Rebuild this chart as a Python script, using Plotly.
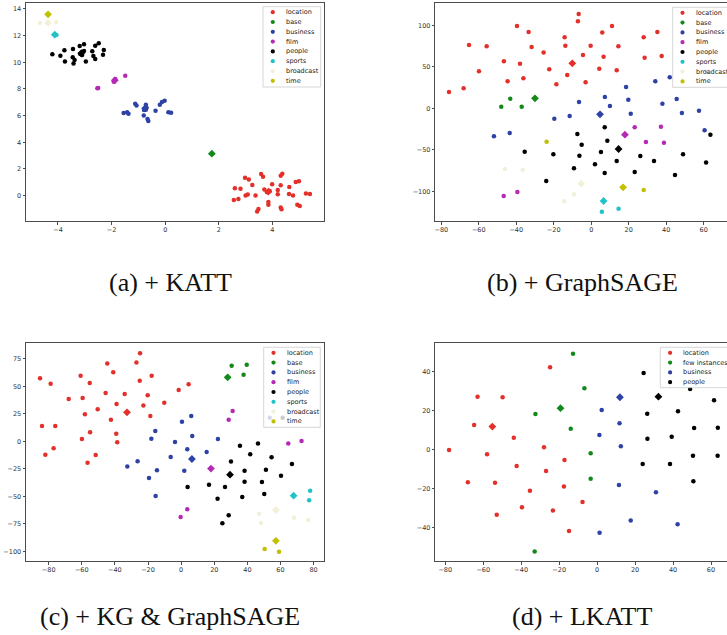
import plotly.graph_objects as go

W, H = 727, 635

# ---------------- categories / colours ----------------
CATS8 = ["location", "base", "business", "film", "people", "sports", "broadcast", "time"]
CATS4 = ["location", "few instances", "business", "people"]
COLORS8 = ["#e3302a", "#128a1a", "#2e42a6", "#b52ab5", "#000000", "#22c2c8", "#f3f0da", "#c2bf00"]
COLORS4 = ["#e3302a", "#128a1a", "#2e42a6", "#000000"]

CAPTIONS = ["(a) + KATT", "(b) + GraphSAGE", "(c) + KG & GraphSAGE", "(d) + LKATT"]

# ---------------- panel (a) + KATT ----------------
A_LOCATION = [(2.98, 1.35), (3.12, 1.22), (3.58, 1.62), (3.65, 1.42), (4.31, 1.50), (4.37, 1.65),
              (3.25, 0.80), (3.99, 0.85), (4.31, 0.78), (2.60, 0.55), (2.81, 0.52), (3.70, 0.47),
              (4.20, 0.42), (4.63, 0.65), (4.87, 1.03), (4.99, 1.08), (3.00, 0.02), (3.08, 0.08),
              (3.37, 0.02), (4.20, 0.10), (4.62, 0.12), (4.77, 0.02), (5.25, 0.17), (5.40, 0.12),
              (2.56, -0.33), (2.73, -0.25), (3.85, -0.48), (3.85, -0.68), (4.31, -0.88), (4.34, -1.02),
              (4.93, -0.68), (5.02, -0.78), (3.43, -1.18), (3.48, -1.00), (3.80, 0.25), (3.90, 0.35)]
A_BASE = []
A_BUSINESS = [(-1.55, 6.20), (-1.42, 6.25), (-1.37, 6.15), (-1.12, 6.90), (-1.07, 6.77), (-0.80, 6.02),
              (-0.79, 6.42), (-0.72, 6.82), (-0.70, 6.62), (-0.66, 5.75), (-0.63, 5.60), (-0.36, 6.37),
              (-0.20, 6.82), (-0.12, 7.02), (-0.02, 7.12), (0.12, 6.25), (0.22, 6.22), (-0.72, 6.45)]
A_FILM = [(-2.53, 8.05), (-2.50, 8.08), (-1.86, 8.75), (-1.92, 8.55), (-1.49, 9.00)]
A_PEOPLE = [(-4.21, 10.60), (-3.91, 10.50), (-3.76, 10.90), (-3.74, 10.07), (-3.44, 11.00), (-3.45, 10.37),
            (-3.38, 10.17), (-3.42, 9.92), (-3.19, 11.22), (-3.17, 10.62), (-3.10, 10.55), (-3.03, 11.35),
            (-3.03, 10.85), (-2.96, 10.07), (-2.72, 10.82), (-2.68, 10.47), (-2.61, 10.25), (-2.61, 11.25),
            (-2.48, 11.42), (-2.32, 10.57), (-2.29, 10.92)]
A_SPORTS = [(-4.06, 12.05)]
A_BROADCAST = [(-4.67, 12.95), (-4.07, 13.00)]
A_TIME = []
A_CENTROIDS = [(3.85, 0.30), (1.74, 3.15), (-0.75, 6.55), (-1.88, 8.65), (-3.13, 10.68),
               (-4.12, 12.07), (-4.37, 12.95), (-4.37, 13.60)]
A_XTICKS = [-4, -2, 0, 2, 4]
A_YTICKS = [0, 2, 4, 6, 8, 10, 12, 14]

# ---------------- panel (b) + GraphSAGE ----------------
B_LOCATION = [(-75.9, 19.7), (-68.1, 24.1), (-65.2, 76.3), (-59.9, 44.6), (-55.8, 74.7), (-46.6, 56.6),
              (-44.6, 32.5), (-39.6, 99.2), (-38.0, 53.8), (-36.2, 36.1), (-33.4, 92.0), (-31.8, 73.9),
              (-25.4, 67.1), (-22.4, 47.0), (-18.6, 28.9), (-14.2, 85.5), (-13.8, 75.5), (-12.8, 40.2),
              (-6.7, 113.7), (-7.1, 104.8), (-4.4, 64.3), (-3.0, 31.3), (-0.3, 75.5), (4.3, 47.8),
              (5.9, 91.2), (6.6, 62.2), (11.1, 99.2), (13.6, 45.8), (14.5, 74.7), (28.0, 85.5),
              (28.5, 61.0), (35.3, 92.0), (37.6, 63.1), (61.8, 44.1)]
B_BASE = [(-48.0, 2.0), (-43.2, 11.6), (-37.1, 2.0)]
B_BUSINESS = [(-51.9, -33.7), (-43.5, -29.7), (-19.7, -12.4), (-11.5, -9.2), (-6.5, 7.6), (7.3, 13.7),
              (10.0, 2.8), (18.6, 25.7), (19.8, 10.4), (21.1, -6.4), (34.2, 32.5), (38.0, 5.6),
              (41.9, 37.3), (45.6, 11.2), (48.4, -5.6), (57.5, -2.8), (60.5, -26.5)]
B_FILM = [(23.2, -22.9), (37.2, -22.1), (29.2, -40.6), (38.8, -41.4), (-46.7, -105.6), (-39.4, -100.8)]
B_PEOPLE = [(7.2, -22.9), (-7.4, -30.9), (-5.1, -43.8), (8.6, -39.0), (-35.5, -52.2), (-20.2, -55.4),
            (-6.3, -57.0), (5.2, -52.6), (26.2, -57.4), (49.0, -55.4), (63.6, -31.7), (2.0, -67.5),
            (-9.2, -72.3), (13.6, -63.5), (33.5, -63.5), (61.3, -65.1), (7.2, -77.9), (23.2, -76.7),
            (44.7, -80.3), (-24.0, -87.6)]
B_SPORTS = [(5.7, -124.5), (14.6, -120.9)]
B_BROADCAST = [(-46.0, -73.1), (-36.6, -73.9), (-9.2, -103.6), (-14.4, -112.0)]
B_TIME = [(-23.8, -40.2), (28.0, -98.4)]
B_CENTROIDS = [(-10.1, 54.2), (-30.0, 12.0), (4.7, -7.2), (18.0, -31.7), (14.6, -49.0),
               (6.6, -111.6), (-5.3, -90.8), (17.0, -95.2)]
B_XTICKS = [-80, -60, -40, -20, 0, 20, 40, 60]
B_YTICKS = [-100, -50, 0, 50, 100]

# ---------------- panel (c) + KG & GraphSAGE ----------------
C_LOCATION = [(-85.2, 57.4), (-78.8, 52.5), (-84.0, 14.0), (-76.0, 14.0), (-77.0, -6.2), (-82.0, -12.2),
              (-67.9, 38.6), (-60.7, 59.8), (-59.5, 39.5), (-55.2, 53.2), (-58.1, 24.7), (-50.4, 29.2),
              (-59.9, 2.2), (-55.0, 8.3), (-51.6, -12.3), (-56.5, -19.3), (-45.6, 44.1), (-44.6, 70.8),
              (-42.4, 19.7), (-41.0, 62.9), (-39.0, 34.0), (-39.2, 7.0), (-38.6, -0.8), (-34.1, 43.1),
              (-27.0, 71.9), (-24.8, 80.2), (-25.0, 55.2), (-22.8, 32.6), (-20.2, 42.0), (-18.6, 23.1),
              (-17.8, 59.8), (-10.2, 35.2), (-1.5, 46.8), (4.5, 51.9)]
C_BASE = [(30.5, 68.9), (37.7, 60.7), (39.6, 69.8)]
C_BUSINESS = [(-32.5, -22.9), (-26.3, -18.1), (-19.4, -33.3), (-15.6, 9.5), (-18.0, 2.5), (-14.6, -26.3),
              (-15.4, -49.7), (-6.3, -14.2), (-3.7, -0.5), (0.5, 18.0), (1.9, -26.6), (3.7, -7.2),
              (6.1, 23.1), (6.7, 4.9), (15.4, -9.6), (22.2, 2.2), (53.5, 21.6)]
C_FILM = [(28.7, 19.8), (31.1, 27.6), (3.7, -61.8), (-0.3, -68.8), (64.7, -2.0), (72.7, 0.4)]
C_PEOPLE = [(35.5, -3.9), (46.4, -2.0), (41.7, -11.7), (54.6, -14.5), (30.1, -18.3), (38.3, -26.6),
            (51.2, -25.7), (66.9, -20.5), (60.3, -31.2), (3.9, -41.5), (16.8, -39.4), (26.5, -41.5),
            (38.3, -36.7), (48.8, -37.0), (22.0, -52.1), (36.9, -50.6), (50.2, -47.9), (28.7, -67.2),
            (24.9, -74.5), (61.3, 21.6)]
C_SPORTS = [(77.9, -44.8), (77.3, -53.6)]
C_BROADCAST = [(47.0, -65.7), (48.2, -74.2), (68.1, -69.4), (76.8, -71.5)]
C_TIME = [(50.4, -97.9), (59.1, -100.3)]
C_CENTROIDS = [(-32.7, 26.5), (28.1, 58.3), (6.5, -16.0), (18.0, -24.7), (29.5, -30.3),
               (67.9, -49.4), (57.2, -62.4), (57.2, -90.4)]
C_XTICKS = [-80, -60, -40, -20, 0, 20, 40, 60, 80]
C_YTICKS = [-100, -75, -50, -25, 0, 25, 50, 75]

# ---------------- panel (d) + LKATT ----------------
D_LOCATION = [(-78.0, -0.1), (-68.1, -16.6), (-64.8, 12.7), (-63.0, 27.2), (-58.0, -2.3), (-53.8, -16.8),
              (-52.9, -33.2), (-49.8, 26.9), (-43.9, 6.2), (-42.4, -8.3), (-39.6, -29.4), (-35.4, -20.9),
              (-28.0, 1.3), (-26.9, -10.8), (-24.8, 42.2), (-23.3, -31.1), (-17.5, -18.8), (-17.2, -5.2),
              (-14.8, -41.5), (-7.7, -26.7)]
D_FEW = [(-12.7, 49.2), (-6.7, 31.5), (-32.5, 18.3), (-13.9, 10.8), (-3.4, -1.8), (-3.4, -14.8), (-32.9, -52.1)]
D_BUSINESS = [(2.4, 20.4), (11.8, 13.6), (1.2, 7.6), (12.5, 1.8), (11.5, -18.0), (31.0, -21.7),
              (17.7, -36.2), (1.3, -42.5), (42.4, -38.1)]
D_PEOPLE = [(24.5, 39.3), (49.0, 31.1), (61.6, 25.3), (26.4, 18.5), (42.6, 19.7), (51.1, 11.2),
            (63.6, 11.3), (26.5, 5.7), (39.3, 6.7), (50.5, -3.0), (63.5, -3.0), (24.0, -7.2),
            (38.4, -7.2), (50.7, -16.1)]
D_CENTROIDS = [(-55.2, 11.9), (-19.3, 21.3), (12.0, 26.9), (32.3, 27.2)]
D_XTICKS = [-80, -60, -40, -20, 0, 20, 40, 60]
D_YTICKS = [-40, -20, 0, 20, 40]

# ---------------- layout geometry (pixels in the 727x635 page) ----------------
PANELS = [
    dict(box=(26, 324, 3.3, 221), xr=(-5.193, 5.925), yr=(-1.9, 14.425), full=True,
         legend=(263, 320.7, 6.7, 87.0), cap=(170, 282)),
    dict(box=(435.3, 727, 3.3, 221), xr=(-83.2, 72.46), yr=(-135.7, 126.5), full=False,
         legend=(672.7, 760, 7.3, 87.3), cap=(582, 282)),
    dict(box=(26, 324.3, 343.3, 561), xr=(-93.68, 86.44), yr=(-108.8, 89.26), full=True,
         legend=(263.7, 320.3, 347.3, 427.3), cap=(170, 616)),
    dict(box=(435.3, 727, 343.3, 561), xr=(-85.26, 68.43), yr=(-56.9, 54.5), full=False,
         legend=(660.3, 760, 347.3, 387.7), cap=(582, 616)),
]

PANEL_DATA = [
    ([A_LOCATION, A_BASE, A_BUSINESS, A_FILM, A_PEOPLE, A_SPORTS, A_BROADCAST, A_TIME], A_CENTROIDS, CATS8, COLORS8, A_XTICKS, A_YTICKS),
    ([B_LOCATION, B_BASE, B_BUSINESS, B_FILM, B_PEOPLE, B_SPORTS, B_BROADCAST, B_TIME], B_CENTROIDS, CATS8, COLORS8, B_XTICKS, B_YTICKS),
    ([C_LOCATION, C_BASE, C_BUSINESS, C_FILM, C_PEOPLE, C_SPORTS, C_BROADCAST, C_TIME], C_CENTROIDS, CATS8, COLORS8, C_XTICKS, C_YTICKS),
    ([D_LOCATION, D_FEW, D_BUSINESS, D_PEOPLE], D_CENTROIDS, CATS4, COLORS4, D_XTICKS, D_YTICKS),
]

FRAME = "#4d4d4d"
TICKFONT = dict(family="DejaVu Sans", size=6.5, color="#333333")

fig = go.Figure()
shapes = []
annotations = []


def px_x(v):
    return v / W


def px_y(v):
    return 1 - v / H


for k, (geo, (groups, cents, cats, cols, xt, yt)) in enumerate(zip(PANELS, PANEL_DATA)):
    n = "" if k == 0 else str(k + 1)
    xa, ya = "x" + n, "y" + n
    for pts, cat, col in zip(groups, cats, cols):
        if pts:
            fig.add_trace(go.Scatter(
                x=[p[0] for p in pts], y=[p[1] for p in pts], mode="markers", name=cat,
                xaxis=xa, yaxis=ya, cliponaxis=True,
                marker=dict(size=4.5, color=col, line=dict(width=0))))
    for c, cat, col in zip(cents, cats, cols):
        fig.add_trace(go.Scatter(
            x=[c[0]], y=[c[1]], mode="markers", name=cat + " centre",
            xaxis=xa, yaxis=ya,
            marker=dict(size=6, symbol="diamond", color=col, line=dict(width=0))))

    l, r, t, b = geo["box"]
    xkey = "xaxis" + n
    ykey = "yaxis" + n
    fig.layout[xkey] = dict(
        domain=[px_x(l), min(1.0, px_x(r))], range=list(geo["xr"]), anchor=ya,
        showgrid=False, zeroline=False, showline=True, linecolor=FRAME, linewidth=1,
        mirror=True, ticks="outside", ticklen=2.5, tickwidth=0.8, tickcolor=FRAME,
        tickmode="array", tickvals=xt, tickfont=TICKFONT)
    fig.layout[ykey] = dict(
        domain=[px_y(b), px_y(t)], range=list(geo["yr"]), anchor=xa,
        showgrid=False, zeroline=False, showline=True, linecolor=FRAME, linewidth=1,
        mirror=geo["full"], ticks="outside", ticklen=2.5, tickwidth=0.8, tickcolor=FRAME,
        tickmode="array", tickvals=yt, tickfont=TICKFONT)

    # legend drawn as box + markers + labels
    ll, lr, lt, lb = geo["legend"]
    shapes.append(dict(type="rect", xref="paper", yref="paper", layer="above",
                       x0=px_x(ll), x1=px_x(lr), y0=px_y(lb), y1=px_y(lt),
                       fillcolor="rgba(255,255,255,0.8)", line=dict(color="#cccccc", width=0.8)))
    rad = 2.1
    for i, (cat, col) in enumerate(zip(cats, cols)):
        cy = lt + 5.5 + i * 9.8
        mx = ll + 9.8
        shapes.append(dict(type="circle", xref="paper", yref="paper", layer="above",
                           x0=px_x(mx - rad), x1=px_x(mx + rad), y0=px_y(cy + rad), y1=px_y(cy - rad),
                           fillcolor=col, line=dict(width=0)))
        annotations.append(dict(text=cat, xref="paper", yref="paper", x=px_x(ll + 22), y=px_y(cy),
                                xanchor="left", yanchor="middle", showarrow=False, borderpad=0,
                                font=dict(family="DejaVu Sans", size=6.5, color="#222222")))
    cx, cyc = geo["cap"]
    annotations.append(dict(text=CAPTIONS[k], xref="paper", yref="paper", x=px_x(cx), y=px_y(cyc),
                            xanchor="center", yanchor="middle", showarrow=False, borderpad=0,
                            font=dict(family="Liberation Serif", size=26, color="#111111")))

fig.update_layout(
    width=W, height=H, margin=dict(l=0, r=0, t=0, b=0),
    paper_bgcolor="white", plot_bgcolor="white", showlegend=False,
    shapes=shapes, annotations=annotations)

fig.write_html("out.html", config={"displayModeBar": False},
               post_script="document.body.style.margin='0';document.body.style.overflow='hidden';")
